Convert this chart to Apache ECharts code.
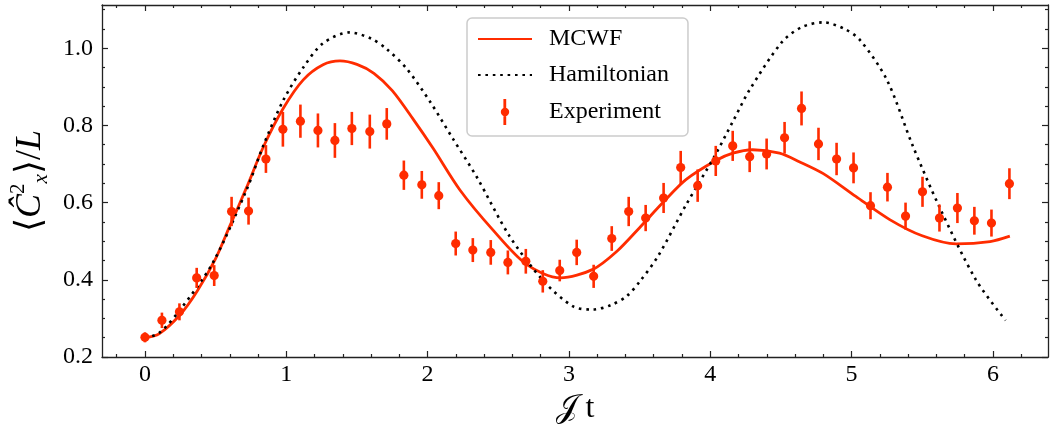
<!DOCTYPE html>
<html><head><meta charset="utf-8">
<script src="https://cdn.jsdelivr.net/npm/echarts@6/dist/echarts.min.js"></script>
<style>html,body{margin:0;padding:0;background:#fff}#c{width:1050px;height:430px}</style>
</head><body><div id="c"></div>
<script>
// Experiment data
const expX = [0, 0.120, 0.244, 0.366, 0.490, 0.613, 0.733, 0.856, 0.976, 1.100,
  1.224, 1.344, 1.464, 1.591, 1.711, 1.832, 1.959, 2.079, 2.199, 2.320,
  2.447, 2.568, 2.695, 2.815, 2.935, 3.055, 3.175, 3.303, 3.423, 3.543,
  3.670, 3.791, 3.911, 4.039, 4.159, 4.279, 4.399, 4.526, 4.646, 4.766,
  4.894, 5.014, 5.134, 5.254, 5.382, 5.502, 5.622, 5.749, 5.869, 5.990, 6.117];
const expY = [0.251, 0.295, 0.317, 0.405, 0.411, 0.577, 0.578, 0.713, 0.790, 0.811,
  0.787, 0.761, 0.792, 0.784, 0.804, 0.671, 0.646, 0.618, 0.494, 0.477,
  0.471, 0.445, 0.448, 0.396, 0.424, 0.471, 0.409, 0.507, 0.577, 0.560,
  0.612, 0.691, 0.644, 0.708, 0.747, 0.719, 0.726, 0.768, 0.844, 0.752,
  0.713, 0.690, 0.592, 0.640, 0.565, 0.628, 0.560, 0.586, 0.553, 0.547, 0.649];
const expErr = [0.013, 0.020, 0.022, 0.026, 0.027, 0.038, 0.035, 0.036, 0.045, 0.043,
  0.044, 0.045, 0.043, 0.044, 0.041, 0.038, 0.036, 0.035, 0.031, 0.031,
  0.032, 0.031, 0.032, 0.029, 0.028, 0.033, 0.030, 0.032, 0.038, 0.034,
  0.039, 0.043, 0.042, 0.039, 0.039, 0.040, 0.040, 0.041, 0.044, 0.042,
  0.042, 0.040, 0.035, 0.037, 0.035, 0.039, 0.035, 0.039, 0.036, 0.035, 0.040];
// MCWF curve
const mcwfX = [0, 0.1, 0.25, 0.37, 0.5, 0.6, 0.72, 0.84, 0.98, 1.12, 1.26, 1.38, 1.50, 1.62, 1.75, 1.90,
  2.04, 2.23, 2.46, 2.70, 2.94, 3.17, 3.34, 3.50, 3.67, 3.83, 4.04, 4.16, 4.30, 4.49, 4.63,
  4.80, 5.03, 5.27, 5.50, 5.74, 5.98, 6.12];
const mcwfY = [0.25, 0.26, 0.31, 0.371, 0.455, 0.539, 0.64, 0.746, 0.845, 0.918, 0.957, 0.967, 0.958, 0.935, 0.89, 0.815,
  0.74, 0.632, 0.53, 0.44, 0.405, 0.427, 0.474, 0.535, 0.602, 0.66, 0.709, 0.728, 0.737, 0.728, 0.706,
  0.675, 0.616, 0.556, 0.514, 0.493, 0.499, 0.513];
// Hamiltonian curve
const hamX = [0, 0.1, 0.25, 0.48, 0.72, 0.84, 0.98, 1.12, 1.26, 1.45, 1.60, 1.71, 1.85, 2.02, 2.18, 2.35,
  2.58, 2.82, 3.03, 3.17, 3.30, 3.41, 3.50, 3.63, 3.83, 4.03, 4.16, 4.28, 4.51, 4.65, 4.80,
  4.95, 5.06, 5.25, 5.43, 5.62, 5.88, 6.09];
const hamY = [0.25, 0.262, 0.323, 0.444, 0.634, 0.75, 0.866, 0.95, 1.013, 1.041, 1.025, 0.998, 0.948, 0.86, 0.765, 0.665,
  0.513, 0.397, 0.331, 0.323, 0.335, 0.358, 0.395, 0.461, 0.595, 0.72, 0.81, 0.893, 1.017, 1.055, 1.067,
  1.05, 1.021, 0.918, 0.75, 0.59, 0.40, 0.295];
// ticks
const xMajor = [0, 1, 2, 3, 4, 5, 6];
const xMinor = [-0.2, 0.2, 0.4, 0.6, 0.8, 1.2, 1.4, 1.6, 1.8, 2.2, 2.4, 2.6, 2.8, 3.2, 3.4, 3.6, 3.8,
  4.2, 4.4, 4.6, 4.8, 5.2, 5.4, 5.6, 5.8, 6.2];
const yMajor = [0.2, 0.4, 0.6, 0.8, 1.0];
const yMinor = [0.25, 0.3, 0.35, 0.45, 0.5, 0.55, 0.65, 0.7, 0.75, 0.85, 0.9, 0.95, 1.05, 1.1];
const xTickLabels = ['0', '1', '2', '3', '4', '5', '6'];
const yTickLabels = ['0.2', '0.4', '0.6', '0.8', '1.0'];
const seriesNames = ['MCWF', 'Hamiltonian', 'Experiment'];

const RED = '#FF2C00';
const AX = '#222';
const FONT = '"Liberation Serif", "DejaVu Serif", serif';
const XMIN = -0.304, XMAX = 6.39, YMIN = 0.2, YMAX = 1.112;

function xAx(pos, vals, len, showLine, showLabel, extra) {
  return Object.assign({
    type: 'value', position: pos, min: XMIN, max: XMAX, gridIndex: 0,
    axisLine: { show: showLine, onZero: false, lineStyle: { color: AX, width: 1.3 } },
    axisTick: { show: true, inside: true, length: len, customValues: vals, lineStyle: { color: AX, width: 1.2 } },
    axisLabel: showLabel ? {
      show: true, customValues: vals, margin: 6, fontSize: 24, fontFamily: FONT, color: '#000',
      formatter: v => xTickLabels[xMajor.indexOf(v)]
    } : { show: false },
    splitLine: { show: false }
  }, extra || {});
}
function yAx(pos, vals, len, showLine, showLabel, extra) {
  return Object.assign({
    type: 'value', position: pos, min: YMIN, max: YMAX, gridIndex: 0,
    axisLine: { show: showLine, onZero: false, lineStyle: { color: AX, width: 1.3 } },
    axisTick: { show: true, inside: true, length: len, customValues: vals, lineStyle: { color: AX, width: 1.2 } },
    axisLabel: showLabel ? {
      show: true, customValues: vals, margin: 9, fontSize: 24, fontFamily: FONT, color: '#000',
      formatter: v => yTickLabels[yMajor.indexOf(v)]
    } : { show: false },
    splitLine: { show: false }
  }, extra || {});
}

const chart = echarts.init(document.getElementById('c'), null, { renderer: 'canvas' });
chart.setOption({
  animation: false,
  backgroundColor: '#fff',
  grid: { left: 102, right: 2, top: 5, bottom: 72, containLabel: false },
  xAxis: [
    xAx('bottom', xMajor, 6, true, true, {
      name: '𝒥 t', nameLocation: 'middle', nameGap: 36,
      nameTextStyle: { fontSize: 32, fontFamily: FONT, color: '#000' }
    }),
    xAx('bottom', xMinor, 3, false, false),
    xAx('top', xMajor, 6, true, false),
    xAx('top', xMinor, 3, false, false)
  ],
  yAxis: [
    yAx('left', yMajor, 6, true, true, {
      name: '{b|⟨}{i|Ĉ}{sup|2}{sub|x}{b|⟩/}{i|L}', nameLocation: 'middle', nameGap: 48,
      nameTextStyle: {
        fontSize: 36, fontFamily: FONT, color: '#000',
        rich: {
          b: { fontSize: 36, fontFamily: FONT, color: '#000' },
          i: { fontSize: 36, fontFamily: FONT, fontStyle: 'italic', color: '#000' },
          sup: { fontSize: 21, fontFamily: FONT, color: '#000', verticalAlign: 'top', lineHeight: 44 },
          sub: { fontSize: 21, fontFamily: FONT, fontStyle: 'italic', color: '#000', verticalAlign: 'bottom', lineHeight: 44 }
        }
      }
    }),
    yAx('left', yMinor, 3, false, false),
    yAx('right', yMajor, 6, true, false),
    yAx('right', yMinor, 3, false, false)
  ],
  legend: {
    orient: 'vertical', left: 467, top: 18,
    data: [
      { name: seriesNames[0], itemStyle: { opacity: 0 } },
      { name: seriesNames[1], itemStyle: { opacity: 0 } },
      { name: seriesNames[2], icon: 'path://M2.6,0H5.4V26H2.6Z M8.4,13A4.2,4.2 0 1 1 0,13A4.2,4.2 0 1 1 8.4,13Z' }
    ],
    itemWidth: 54, itemHeight: 26, itemGap: 12,
    symbolKeepAspect: true,
    textStyle: { fontFamily: FONT, fontSize: 24, color: '#000', padding: [0, 0, 0, 12] },
    padding: [9, 19, 11, 10],
    backgroundColor: '#fff', borderColor: '#cccccc', borderWidth: 1.5, borderRadius: 5
  },
  series: [
    {
      name: seriesNames[0], type: 'line', xAxisIndex: 0, yAxisIndex: 0,
      data: mcwfX.map((x, i) => [x, mcwfY[i]]),
      symbol: 'none', showSymbol: false, smooth: 0.3,
      lineStyle: { color: RED, width: 2.8 }, itemStyle: { color: RED }, z: 2
    },
    {
      name: seriesNames[1], type: 'line', xAxisIndex: 0, yAxisIndex: 0,
      data: hamX.map((x, i) => [x, hamY[i]]),
      symbol: 'none', showSymbol: false, smooth: 0.3,
      lineStyle: { color: '#000', width: 2.6, type: [2.6, 4.8], cap: 'butt' }, itemStyle: { color: '#000' }, z: 2
    },
    {
      name: seriesNames[2], type: 'custom', xAxisIndex: 0, yAxisIndex: 0,
      data: expX.map((x, i) => [x, expY[i], expErr[i]]),
      itemStyle: { color: RED }, z: 3,
      renderItem: (params, api) => {
        const x = api.value(0), y = api.value(1), e = api.value(2);
        const p = api.coord([x, y]);
        const lo = api.coord([x, y - e]);
        const hi = api.coord([x, y + e]);
        return {
          type: 'group', children: [
            { type: 'line', shape: { x1: lo[0], y1: lo[1], x2: hi[0], y2: hi[1] }, style: { stroke: RED, lineWidth: 2.6 } },
            { type: 'circle', shape: { cx: p[0], cy: p[1], r: 4.6 }, style: { fill: RED } }
          ]
        };
      }
    }
  ]
});
</script></body></html>
